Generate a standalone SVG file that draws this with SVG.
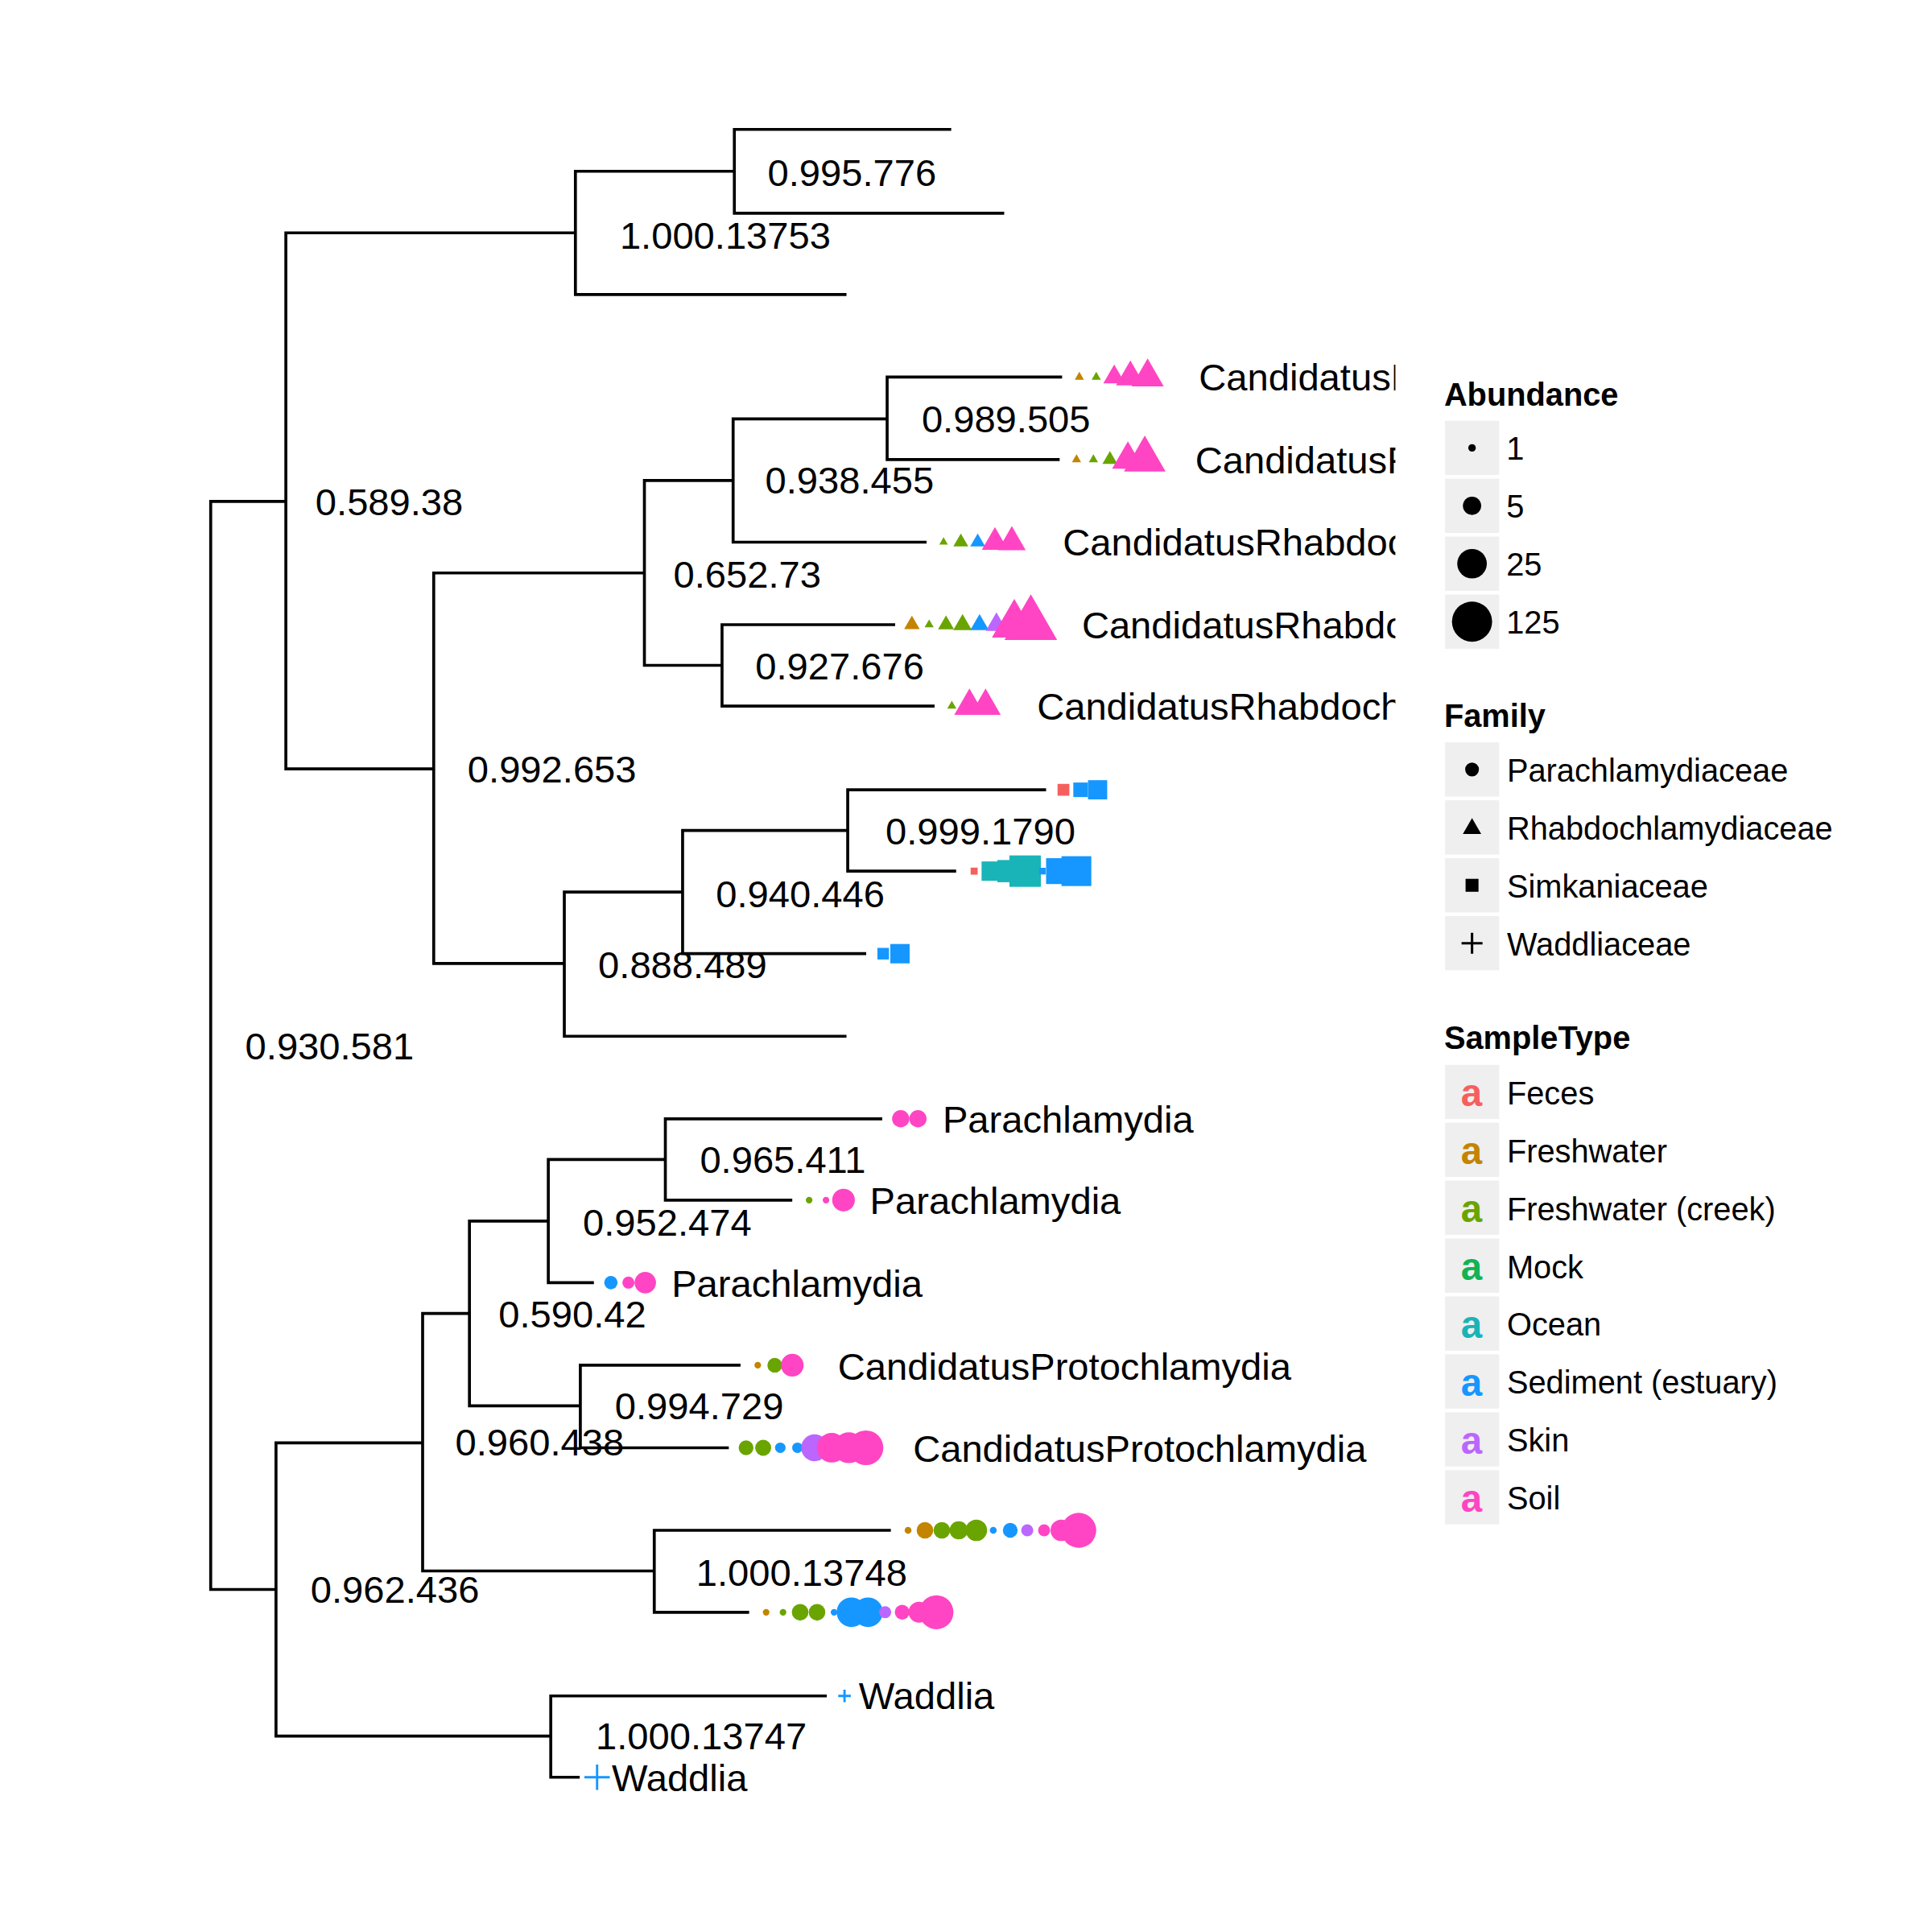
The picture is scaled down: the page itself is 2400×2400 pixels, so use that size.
<svg xmlns="http://www.w3.org/2000/svg" xmlns:xlink="http://www.w3.org/1999/xlink" width="2400" height="2400" viewBox="0 0 2400 2400">
<style>
.br{fill:none;stroke:#000;stroke-width:2.4;stroke-linecap:butt;stroke-linejoin:miter}
text{font-family:"Liberation Sans",Arial,Helvetica,sans-serif;fill:#000}
.nl,.tl{font-size:30.8px}
.lg{font-size:26px}
.lt{font-size:26px;font-weight:bold}
.kb{fill:#EFEFEF}
.ka{font-size:31px;font-weight:bold;text-anchor:middle}
.fe{fill:#F5605E}.fw{fill:#C38400}.fc{fill:#6AA400}.mo{fill:#13B254}.oc{fill:#19B4B8}.se{fill:#1597FF}.sk{fill:#BB66FF}.so{fill:#FF45C3}
.pl{fill:none;stroke:#1597FF;stroke-width:1.9}
.pk{fill:none;stroke:#000;stroke-width:2}
.k{fill:#000}
</style>
<defs>
<path id="tri" d="M0,-1L0.866,0.5L-0.866,0.5Z"/>
<rect id="sq" x="-0.5" y="-0.5" width="1" height="1"/>
<clipPath id="panel"><rect x="0" y="0" width="1132.5" height="1568"/></clipPath>
</defs>
<rect x="0" y="0" width="2400" height="2400" fill="#fff"/>
<g transform="scale(1.530612)">
<g id="connectors" class="br">
<path d="M232,407H171V1290H224"/>
<path d="M467,189H232V624H352"/>
<path d="M596,139H467V239H687"/>
<path d="M772,105H596V173H815"/>
<path d="M523,465H352V782H458"/>
<path d="M595,390H523V540H586"/>
<path d="M720,340H595V440H752"/>
<path d="M862,306H720V373H860"/>
<path d="M726.5,507H586V573H758.5"/>
<path d="M554,724H458V841H687"/>
<path d="M688,674H554V774H703"/>
<path d="M849,641H688V707H776"/>
<path d="M343,1171H224V1409H447"/>
<path d="M381,1066H343V1275H531"/>
<path d="M445,991H381V1141H471"/>
<path d="M540,941H445V1041H482"/>
<path d="M716,908H540V974H643"/>
<path d="M601,1108H471V1175H591.5"/>
<path d="M723,1242H531V1308.5H608"/>
<path d="M671,1376.4H447V1442.4H470.5"/>
</g>
<g id="node-labels">
<g id="n-root"><text class="nl" x="199" y="860">0.930.581</text></g>
<g id="n-A"><text class="nl" x="256" y="418">0.589.38</text></g>
<g id="n-B"><text class="nl" x="503" y="202">1.000.13753</text></g>
<g id="n-C"><text class="nl" x="623" y="151">0.995.776</text></g>
<g id="n-D"><text class="nl" x="379.5" y="635">0.992.653</text></g>
<g id="n-E"><text class="nl" x="546.5" y="477">0.652.73</text></g>
<g id="n-F"><text class="nl" x="621" y="400.5">0.938.455</text></g>
<g id="n-G"><text class="nl" x="748" y="351">0.989.505</text></g>
<g id="n-H"><text class="nl" x="613" y="551.5">0.927.676</text></g>
<g id="n-I"><text class="nl" x="485.5" y="794">0.888.489</text></g>
<g id="n-J"><text class="nl" x="581" y="736">0.940.446</text></g>
<g id="n-K"><text class="nl" x="718.7" y="685.6">0.999.1790</text></g>
<g id="n-L"><text class="nl" x="252" y="1301">0.962.436</text></g>
<g id="n-M"><text class="nl" x="369.5" y="1181.5">0.960.438</text></g>
<g id="n-N"><text class="nl" x="404.6" y="1077.6">0.590.42</text></g>
<g id="n-O"><text class="nl" x="473" y="1002.8">0.952.474</text></g>
<g id="n-P"><text class="nl" x="568" y="952">0.965.411</text></g>
<g id="n-Q"><text class="nl" x="499" y="1152">0.994.729</text></g>
<g id="n-R"><text class="nl" x="565" y="1287">1.000.13748</text></g>
<g id="n-S"><text class="nl" x="483.5" y="1420">1.000.13747</text></g>
</g>
<g id="tips" clip-path="url(#panel)">
<g id="tip-rhabdo-1">
<use xlink:href="#tri" class="fw" transform="translate(876,306) scale(4.3)"/>
<use xlink:href="#tri" class="fc" transform="translate(889.7,306) scale(4.3)"/>
<use xlink:href="#tri" class="so" transform="translate(904.3,306) scale(10.2)"/>
<use xlink:href="#tri" class="so" transform="translate(917.4,306) scale(13.5)"/>
<use xlink:href="#tri" class="so" transform="translate(931.4,306) scale(15.1)"/>
<text class="tl" x="973" y="317">CandidatusR</text>
</g>
<g id="tip-rhabdo-2">
<use xlink:href="#tri" class="fw" transform="translate(873.7,373) scale(4.3)"/>
<use xlink:href="#tri" class="fc" transform="translate(887.4,373) scale(4.3)"/>
<use xlink:href="#tri" class="fc" transform="translate(900.8,373) scale(7)"/>
<use xlink:href="#tri" class="so" transform="translate(915.4,373) scale(14.8)"/>
<use xlink:href="#tri" class="so" transform="translate(929.1,373) scale(19.5)"/>
<text class="tl" x="970" y="384">CandidatusR</text>
</g>
<g id="tip-rhabdo-3">
<use xlink:href="#tri" class="fc" transform="translate(765.8,440) scale(4)"/>
<use xlink:href="#tri" class="fc" transform="translate(779.8,440) scale(7)"/>
<use xlink:href="#tri" class="se" transform="translate(793.5,440) scale(7)"/>
<use xlink:href="#tri" class="so" transform="translate(807.5,440) scale(12.3)"/>
<use xlink:href="#tri" class="so" transform="translate(821.2,440) scale(13)"/>
<text class="tl" x="862.6" y="451">CandidatusRhabdoc</text>
</g>
<g id="tip-rhabdo-4">
<use xlink:href="#tri" class="fw" transform="translate(740.1,507) scale(7.3)"/>
<use xlink:href="#tri" class="fc" transform="translate(754.1,507) scale(4.3)"/>
<use xlink:href="#tri" class="fc" transform="translate(767.8,507) scale(7.5)"/>
<use xlink:href="#tri" class="fc" transform="translate(781.2,507) scale(8.7)"/>
<use xlink:href="#tri" class="se" transform="translate(795,507) scale(8.7)"/>
<use xlink:href="#tri" class="sk" transform="translate(808.7,507) scale(10)"/>
<use xlink:href="#tri" class="so" transform="translate(823.2,507) scale(21)"/>
<use xlink:href="#tri" class="so" transform="translate(836.6,507) scale(24.7)"/>
<text class="tl" x="878" y="518">CandidatusRhabdo</text>
</g>
<g id="tip-rhabdo-5">
<use xlink:href="#tri" class="fc" transform="translate(772.5,573) scale(4.3)"/>
<use xlink:href="#tri" class="so" transform="translate(786.8,573) scale(14.2)"/>
<use xlink:href="#tri" class="so" transform="translate(799.9,573) scale(14.2)"/>
<text class="tl" x="841.6" y="584">CandidatusRhabdoch</text>
</g>
<g id="tip-simk-1">
<use xlink:href="#sq" class="fe" transform="translate(863.1,641) scale(9.6)"/>
<use xlink:href="#sq" class="se" transform="translate(877,641) scale(11.8)"/>
<use xlink:href="#sq" class="se" transform="translate(890.8,641) scale(15.6)"/>
</g>
<g id="tip-simk-2">
<use xlink:href="#sq" class="fe" transform="translate(790.6,707) scale(5.7)"/>
<use xlink:href="#sq" class="oc" transform="translate(804.5,707) scale(15.7)"/>
<use xlink:href="#sq" class="oc" transform="translate(818.4,707) scale(18)"/>
<use xlink:href="#sq" class="oc" transform="translate(832,707) scale(25.5)"/>
<use xlink:href="#sq" class="se" transform="translate(846,707) scale(5.4)"/>
<use xlink:href="#sq" class="se" transform="translate(859.5,707) scale(21)"/>
<use xlink:href="#sq" class="se" transform="translate(873.6,707) scale(24.2)"/>
</g>
<g id="tip-simk-3">
<use xlink:href="#sq" class="se" transform="translate(716.8,774) scale(9.4)"/>
<use xlink:href="#sq" class="se" transform="translate(730.4,774) scale(15.7)"/>
</g>
<g id="tip-para-1">
<circle class="so" cx="731" cy="908" r="7"/>
<circle class="so" cx="745" cy="908" r="7"/>
<text class="tl" x="765" y="919.5">Parachlamydia</text>
</g>
<g id="tip-para-2">
<circle class="fc" cx="656.7" cy="974" r="2.7"/>
<circle class="so" cx="670.4" cy="974" r="2.7"/>
<circle class="so" cx="684.6" cy="974" r="9.2"/>
<text class="tl" x="706" y="985.5">Parachlamydia</text>
</g>
<g id="tip-para-3">
<circle class="se" cx="495.8" cy="1041" r="5.4"/>
<circle class="so" cx="510" cy="1041" r="4.9"/>
<circle class="so" cx="523.7" cy="1041" r="8.7"/>
<text class="tl" x="545" y="1052.5">Parachlamydia</text>
</g>
<g id="tip-proto-1">
<circle class="fw" cx="615" cy="1108" r="2.7"/>
<circle class="fc" cx="628.8" cy="1108" r="6"/>
<circle class="so" cx="643" cy="1108" r="9.2"/>
<text class="tl" x="680" y="1119.5">CandidatusProtochlamydia</text>
</g>
<g id="tip-proto-2">
<circle class="fc" cx="605.5" cy="1175" r="6"/>
<circle class="fc" cx="619.4" cy="1175" r="6.5"/>
<circle class="se" cx="633.3" cy="1175" r="4.3"/>
<circle class="se" cx="647.2" cy="1175" r="4.3"/>
<circle class="sk" cx="661.1" cy="1175" r="10.9"/>
<circle class="so" cx="675" cy="1175" r="12"/>
<circle class="so" cx="688.9" cy="1175" r="12.5"/>
<circle class="so" cx="702.8" cy="1175" r="14.1"/>
<text class="tl" x="741" y="1186.5">CandidatusProtochlamydia</text>
</g>
<g id="tip-para-4">
<circle class="fw" cx="737" cy="1242" r="2.8"/>
<circle class="fw" cx="750.7" cy="1242" r="6.75"/>
<circle class="fc" cx="764.4" cy="1242" r="6.75"/>
<circle class="fc" cx="778.1" cy="1242" r="7.4"/>
<circle class="fc" cx="792.4" cy="1242" r="8.7"/>
<circle class="se" cx="806.1" cy="1242" r="2.8"/>
<circle class="se" cx="819.9" cy="1242" r="6"/>
<circle class="sk" cx="833.7" cy="1242" r="4.9"/>
<circle class="so" cx="847.4" cy="1242" r="4.9"/>
<circle class="so" cx="861.3" cy="1242" r="8.7"/>
<circle class="so" cx="875.5" cy="1242" r="14.2"/>
</g>
<g id="tip-para-5">
<circle class="fw" cx="621.8" cy="1308.5" r="2.7"/>
<circle class="fc" cx="635.5" cy="1308.5" r="2.7"/>
<circle class="fc" cx="649.4" cy="1308.5" r="6.75"/>
<circle class="fc" cx="663.1" cy="1308.5" r="6.75"/>
<circle class="se" cx="676.9" cy="1308.5" r="2.7"/>
<circle class="se" cx="691" cy="1308.5" r="12"/>
<circle class="se" cx="704.5" cy="1308.5" r="12"/>
<circle class="sk" cx="718.4" cy="1308.5" r="4.9"/>
<circle class="so" cx="732.2" cy="1308.5" r="6"/>
<circle class="so" cx="745.9" cy="1308.5" r="8.5"/>
<circle class="so" cx="760" cy="1308.5" r="13.8"/>
</g>
<g id="tip-waddlia-1">
<path class="pl" d="M680.3,1376.4H690.5M685.4,1371.3V1381.5"/>
<text class="tl" x="697" y="1387">Waddlia</text>
</g>
<g id="tip-waddlia-2">
<path class="pl" d="M474.3,1442.4H494.9M484.6,1432.1V1452.7"/>
<text class="tl" x="496.5" y="1453.5">Waddlia</text>
</g>
</g>
<g id="legend-abundance">
<text class="lt" x="1172" y="329">Abundance</text>
<rect class="kb" x="1172.8" y="341.5" width="43.9" height="44"/>
<rect class="kb" x="1172.8" y="388.5" width="43.9" height="44"/>
<rect class="kb" x="1172.8" y="435.5" width="43.9" height="44"/>
<rect class="kb" x="1172.8" y="482.5" width="43.9" height="44"/>
<circle class="k" cx="1194.7" cy="363.5" r="3.05"/>
<circle class="k" cx="1194.7" cy="410.5" r="7.4"/>
<circle class="k" cx="1194.7" cy="457.5" r="12"/>
<circle class="k" cx="1194.7" cy="504.5" r="16.3"/>
<text class="lg" x="1222.5" y="373.2">1</text>
<text class="lg" x="1222.5" y="420.2">5</text>
<text class="lg" x="1222.5" y="467.2">25</text>
<text class="lg" x="1222.5" y="514.2">125</text>
</g>
<g id="legend-family">
<text class="lt" x="1172" y="590">Family</text>
<rect class="kb" x="1172.8" y="602.5" width="43.9" height="44"/>
<rect class="kb" x="1172.8" y="649.5" width="43.9" height="44"/>
<rect class="kb" x="1172.8" y="696.5" width="43.9" height="44"/>
<rect class="kb" x="1172.8" y="743.5" width="43.9" height="44"/>
<circle class="k" cx="1194.7" cy="624.5" r="5.6"/>
<use xlink:href="#tri" class="k" transform="translate(1194.7,672.5) scale(8.6)"/>
<use xlink:href="#sq" class="k" transform="translate(1194.7,718.5) scale(10.5)"/>
<path class="pk" d="M1186.2,765.5H1203.2M1194.7,757V774"/>
<text class="lg" x="1223" y="634.2">Parachlamydiaceae</text>
<text class="lg" x="1223" y="681.2">Rhabdochlamydiaceae</text>
<text class="lg" x="1223" y="728.2">Simkaniaceae</text>
<text class="lg" x="1223" y="775.2">Waddliaceae</text>
</g>
<g id="legend-sampletype">
<text class="lt" x="1172" y="851">SampleType</text>
<rect class="kb" x="1172.8" y="864.2" width="43.9" height="44"/>
<rect class="kb" x="1172.8" y="911.2" width="43.9" height="44"/>
<rect class="kb" x="1172.8" y="958.2" width="43.9" height="44"/>
<rect class="kb" x="1172.8" y="1005.2" width="43.9" height="44"/>
<rect class="kb" x="1172.8" y="1052.2" width="43.9" height="44"/>
<rect class="kb" x="1172.8" y="1099.2" width="43.9" height="44"/>
<rect class="kb" x="1172.8" y="1146.2" width="43.9" height="44"/>
<rect class="kb" x="1172.8" y="1193.2" width="43.9" height="44"/>
<text class="ka fe" x="1194.3" y="897.7">a</text>
<text class="ka fw" x="1194.3" y="944.7">a</text>
<text class="ka fc" x="1194.3" y="991.7">a</text>
<text class="ka mo" x="1194.3" y="1038.7">a</text>
<text class="ka oc" x="1194.3" y="1085.7">a</text>
<text class="ka se" x="1194.3" y="1132.7">a</text>
<text class="ka sk" x="1194.3" y="1179.7">a</text>
<text class="ka so" x="1194.3" y="1226.7">a</text>
<text class="lg" x="1223" y="896.2">Feces</text>
<text class="lg" x="1223" y="943.2">Freshwater</text>
<text class="lg" x="1223" y="990.2">Freshwater (creek)</text>
<text class="lg" x="1223" y="1037.2">Mock</text>
<text class="lg" x="1223" y="1084.2">Ocean</text>
<text class="lg" x="1223" y="1131.2">Sediment (estuary)</text>
<text class="lg" x="1223" y="1178.2">Skin</text>
<text class="lg" x="1223" y="1225.2">Soil</text>
</g>
</g>
</svg>
